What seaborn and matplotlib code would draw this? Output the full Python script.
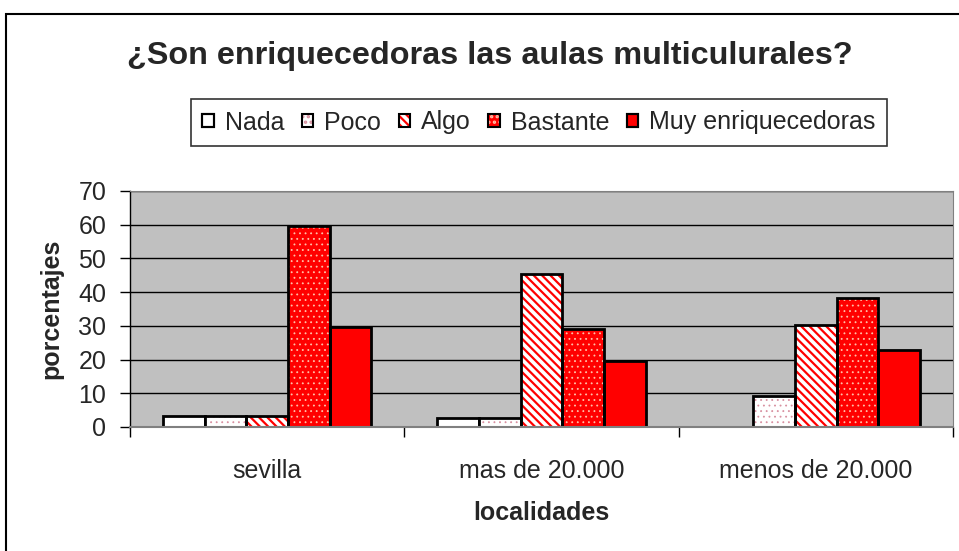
import matplotlib
matplotlib.use('Agg')
import matplotlib.pyplot as plt
from matplotlib.patches import Patch, Rectangle
from matplotlib.legend_handler import HandlerTuple
import seaborn as sns
import pandas as pd


# data
#==============================================================================
localidades = ['sevilla', 'mas de 20.000', 'menos de 20.000']
respuestas = ['Nada', 'Poco', 'Algo', 'Bastante', 'Muy enriquecedoras']

nada = [3.3, 2.7, 0.0]
poco = [3.3, 2.7, 9.3]
algo = [3.3, 45.5, 30.4]
bastante = [59.7, 29.2, 38.2]
muy = [29.8, 19.5, 22.7]

y_ticks = [0, 10, 20, 30, 40, 50, 60, 70]

# style of each answer: face colour, hatch, hatch colour, hatch line width
faces = ['white', 'white', 'white', '#ff0000', '#ff0000']
hatches = [None, '...', '\\\\\\\\', '...', None]
hatch_colors = ['black', '#d890a0', '#ff0000', '#ffc0a8', 'black']
hatch_widths = [1.0, 0.6, 1.6, 0.6, 1.0]


#==============================================================================
rows = []
for resp, vals in zip(respuestas, [nada, poco, algo, bastante, muy]):
    for loc, v in zip(localidades, vals):
        rows.append({'localidad': loc, 'respuesta': resp, 'porcentaje': v})
df = pd.DataFrame(rows)

sns.set_style('white')
plt.rcParams['font.family'] = ['Liberation Sans', 'DejaVu Sans']
plt.rcParams['hatch.linewidth'] = 1.6

fig, ax = plt.subplots(figsize=(9.59, 5.51), dpi=100)
fig.subplots_adjust(left=130 / 959, right=953 / 959, bottom=1 - 427 / 551, top=1 - 191 / 551)

sns.barplot(data=df, x='localidad', y='porcentaje', hue='respuesta',
            order=localidades, hue_order=respuestas,
            palette=dict(zip(respuestas, faces)), width=0.76,
            edgecolor='black', linewidth=2, saturation=1, legend=False, ax=ax)

has_hatchcolor = hasattr(Patch, 'set_hatchcolor')
has_hatchwidth = hasattr(Patch, 'set_hatch_linewidth')


def style_patch(p, hatch, hc, hw):
    p.set_hatch(hatch)
    if has_hatchwidth:
        p.set_hatch_linewidth(hw)
    if has_hatchcolor:
        p.set_hatchcolor(hc)
        return False
    p.set_edgecolor(hc)
    p.set_linewidth(0)
    return True


# patterns on the bars, black outline kept on top
for cont, hatch, hc, hw in zip(ax.containers, hatches, hatch_colors, hatch_widths):
    for bar in cont:
        if hatch is None:
            continue
        if style_patch(bar, hatch, hc, hw):
            ax.add_patch(Rectangle((bar.get_x(), bar.get_y()), bar.get_width(), bar.get_height(),
                                   fill=False, edgecolor='black', linewidth=2, zorder=bar.get_zorder() + 0.1))

ax.set_facecolor('#c0c0c0')
ax.set_ylim(0, 70)
ax.set_yticks(y_ticks)
ax.set_xlim(-0.5, 2.5)
ax.yaxis.grid(True, color='black', linewidth=1)
ax.set_axisbelow(True)

# tick marks at the category borders, labels in the middle
ax.set_xticks([-0.5, 0.5, 1.5, 2.5])
ax.set_xticklabels([])
ax.set_xticks([0, 1, 2], minor=True)
ax.set_xticklabels(localidades, minor=True)
ax.tick_params(axis='x', which='major', bottom=True, length=7, width=1, color='black')
ax.tick_params(axis='x', which='minor', bottom=True, length=0, pad=23, labelsize=18)
ax.tick_params(axis='y', left=True, length=7, width=1, color='black', pad=10, labelsize=18)

for side in ['top', 'right']:
    ax.spines[side].set_color('#808080')
ax.spines['bottom'].set_color('#808080')
ax.spines['bottom'].set_linewidth(1.5)
ax.spines['left'].set_color('black')
ax.spines['left'].set_linewidth(1)

ax.set_xlabel('localidades', fontsize=18, fontweight='bold', labelpad=13)
ax.set_ylabel('porcentajes', fontsize=18, fontweight='bold', labelpad=11)

fig.text(490 / 959, 1 - 56 / 551, '¿Son enriquecedoras las aulas multiculurales?',
         ha='center', va='center', fontsize=23.3, fontweight='bold')

# legend: hatched square with a black outline on top
handles = []
for face, hatch, hc, hw in zip(faces, hatches, hatch_colors, hatch_widths):
    h = Patch(facecolor=face, edgecolor='black', linewidth=1.5)
    if hatch is not None:
        style_patch(h, hatch, hc, hw)
    outline = Patch(facecolor='none', edgecolor='black', linewidth=1.5)
    handles.append((h, outline))
leg = fig.legend(handles, respuestas, loc='center', bbox_to_anchor=(539 / 959, 1 - 122.5 / 551),
                 ncol=5, fontsize=18, frameon=True, fancybox=False, edgecolor='black',
                 handlelength=0.45, handleheight=0.45, handletextpad=0.45,
                 columnspacing=0.7, borderpad=0.45, borderaxespad=0,
                 handler_map={tuple: HandlerTuple(ndivide=1)})
leg.get_frame().set_linewidth(1.2)

# outer frame of the chart
fig.patches.append(Rectangle((5.5 / 959, -0.1), 1.2, 1.1 - 13.5 / 551, transform=fig.transFigure,
                             fill=False, edgecolor='black', linewidth=1.5))

fig.savefig('out.png', dpi=100)
plt.close(fig)
